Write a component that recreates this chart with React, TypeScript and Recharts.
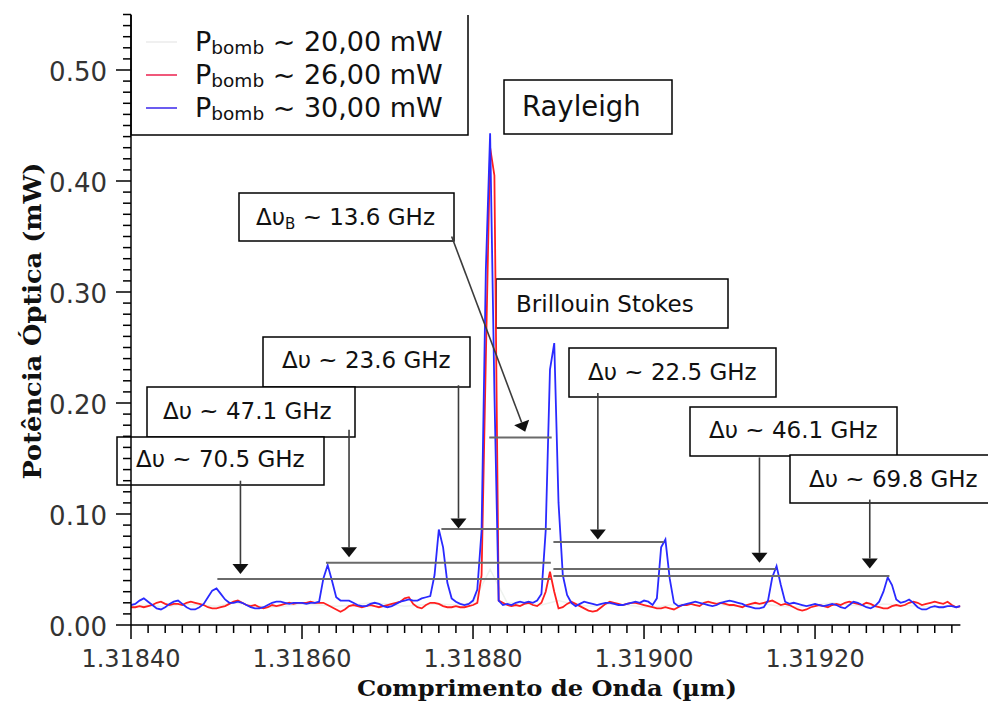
import React from 'react';
import { LineChart, Line, XAxis, YAxis, ReferenceLine } from 'recharts';

// wavelength grid of the OSA trace (µm)
const wavelength = Array.from({ length: 195 }, (_, i) => +(1.3184 + i * 0.000005).toFixed(6));

// P_bomb ~ 26 mW (red)
const p26 = [
  0.016, 0.016, 0.017, 0.016, 0.017, 0.018, 0.02, 0.021, 0.019, 0.018,
  0.019, 0.019, 0.018, 0.02, 0.021, 0.02, 0.019, 0.018, 0.016, 0.015,
  0.015, 0.016, 0.017, 0.019, 0.021, 0.022, 0.02, 0.018, 0.017, 0.018,
  0.016, 0.015, 0.016, 0.018, 0.017, 0.018, 0.019, 0.02, 0.019, 0.02,
  0.02, 0.02, 0.021, 0.02, 0.02, 0.02, 0.018, 0.016, 0.014, 0.012,
  0.014, 0.017, 0.018, 0.017, 0.016, 0.017, 0.018, 0.017, 0.016, 0.017,
  0.018, 0.019, 0.02, 0.021, 0.024, 0.025, 0.019, 0.016, 0.015, 0.018,
  0.02, 0.02, 0.019, 0.017, 0.016, 0.016, 0.017, 0.016, 0.016, 0.017,
  0.018, 0.02, 0.045, 0.24, 0.43, 0.405, 0.022, 0.02, 0.018, 0.017,
  0.018, 0.017, 0.019, 0.02, 0.018, 0.017, 0.02, 0.03, 0.048, 0.03,
  0.015, 0.016, 0.019, 0.021, 0.019, 0.017, 0.015, 0.013, 0.012, 0.013,
  0.016, 0.019, 0.021, 0.02, 0.019, 0.018, 0.019, 0.02, 0.02, 0.019,
  0.018, 0.017, 0.016, 0.015, 0.015, 0.016, 0.015, 0.014, 0.016, 0.018,
  0.018, 0.019, 0.018, 0.017, 0.02, 0.021, 0.02, 0.019, 0.02, 0.019,
  0.018, 0.018, 0.017, 0.016, 0.018, 0.019, 0.02, 0.019, 0.02, 0.021,
  0.022, 0.02, 0.018, 0.019, 0.018, 0.016, 0.014, 0.013, 0.014, 0.016,
  0.017, 0.018, 0.017, 0.016, 0.018, 0.019, 0.018, 0.02, 0.021, 0.02,
  0.019, 0.018, 0.02, 0.019, 0.017, 0.016, 0.015, 0.015, 0.017, 0.018,
  0.017, 0.018, 0.02, 0.021, 0.02, 0.018, 0.019, 0.02, 0.021, 0.02,
  0.019, 0.021, 0.018, 0.016, 0.017,
];

// P_bomb ~ 30 mW (blue)
const p30 = [
  0.018, 0.019, 0.022, 0.024, 0.021, 0.018, 0.015, 0.014, 0.016, 0.019,
  0.021, 0.022, 0.019, 0.016, 0.014, 0.014, 0.016, 0.019, 0.025, 0.031,
  0.033, 0.028, 0.023, 0.02, 0.02, 0.021, 0.02, 0.018, 0.016, 0.015,
  0.015, 0.016, 0.018, 0.02, 0.021, 0.021, 0.02, 0.019, 0.02, 0.02,
  0.02, 0.019, 0.02, 0.02, 0.021, 0.042, 0.054, 0.04, 0.025, 0.022,
  0.022, 0.022, 0.02, 0.018, 0.017, 0.017, 0.019, 0.02, 0.019, 0.017,
  0.016, 0.017, 0.019, 0.021, 0.022, 0.023, 0.022, 0.022, 0.024, 0.025,
  0.026, 0.045, 0.086, 0.07, 0.038, 0.024, 0.021, 0.019, 0.018, 0.019,
  0.022, 0.032, 0.085, 0.32, 0.443, 0.21, 0.022, 0.018, 0.019, 0.018,
  0.02, 0.021, 0.02, 0.021, 0.02, 0.022, 0.028, 0.085, 0.23, 0.254,
  0.11, 0.045, 0.027, 0.02, 0.017, 0.019, 0.021, 0.02, 0.019, 0.018,
  0.019, 0.02, 0.02, 0.019, 0.018, 0.018, 0.019, 0.02, 0.021, 0.02,
  0.022, 0.021, 0.018, 0.024, 0.07, 0.077, 0.042, 0.02, 0.017, 0.018,
  0.019, 0.02, 0.021, 0.02, 0.019, 0.018, 0.017, 0.018, 0.02, 0.021,
  0.022, 0.021, 0.02, 0.019, 0.017, 0.016, 0.015, 0.015, 0.016, 0.022,
  0.043, 0.053, 0.036, 0.021, 0.019, 0.02, 0.019, 0.018, 0.017, 0.018,
  0.019, 0.018, 0.017, 0.018, 0.019, 0.018, 0.016, 0.015, 0.018, 0.021,
  0.02, 0.018, 0.016, 0.015, 0.017, 0.021, 0.03, 0.043, 0.036, 0.023,
  0.02, 0.021, 0.023, 0.02, 0.016, 0.014, 0.014, 0.016, 0.017, 0.016,
  0.016, 0.017, 0.017, 0.016, 0.017,
];

// P_bomb ~ 20 mW (very faint trace), coarser sampling
const wavelength20 = Array.from({ length: 49 }, (_, i) => +(1.3184 + i * 0.00002).toFixed(5));
const p20 = [
  0.017, 0.018, 0.016, 0.019, 0.018, 0.017, 0.02, 0.018, 0.016, 0.017,
  0.019, 0.018, 0.017, 0.018, 0.02, 0.019, 0.017, 0.018, 0.019, 0.018,
  0.02, 0.05, 0.02, 0.019, 0.018, 0.022, 0.018, 0.017, 0.019, 0.018,
  0.016, 0.017, 0.019, 0.018, 0.02, 0.017, 0.018, 0.019, 0.017, 0.016,
  0.018, 0.02, 0.018, 0.017, 0.019, 0.018, 0.017, 0.016, 0.018,
];

const seriesKeys = ['p20', 'p26', 'p30'];
const seriesPower = ['20,00', '26,00', '30,00'];
const seriesColors = ['#eef2ee', '#ff1f1f', '#2a2aff'];
const legendColors = ['#f0f0f0', '#f0587a', '#6b5cf0'];

const xTicks = Array.from({ length: 49 }, (_, i) => +(1.3184 + i * 0.00002).toFixed(5));
const yTicks = Array.from({ length: 56 }, (_, i) => +(i * 0.01).toFixed(2));

// separation markers: horizontal spans between Stokes lines (data coords)
const spans = [
  { x1: 1.318819, x2: 1.318892, y: 0.169 },
  { x1: 1.318763, x2: 1.318891, y: 0.0865 },
  { x1: 1.318628, x2: 1.318891, y: 0.056 },
  { x1: 1.318501, x2: 1.318891, y: 0.0414 },
  { x1: 1.318894, x2: 1.319023, y: 0.0748 },
  { x1: 1.318894, x2: 1.319154, y: 0.0505 },
  { x1: 1.318894, x2: 1.319287, y: 0.0441 },
];

// arrows from the labels down to the spans (data coords)
const arrows = [
  { x1: 1.318528, y1: 0.13, x2: 1.318528, y2: 0.046 },
  { x1: 1.318655, y1: 0.176, x2: 1.318655, y2: 0.061 },
  { x1: 1.318783, y1: 0.216, x2: 1.318783, y2: 0.087 },
  { x1: 1.318775, y1: 0.35, x2: 1.318861, y2: 0.174 },
  { x1: 1.318946, y1: 0.209, x2: 1.318946, y2: 0.077 },
  { x1: 1.319135, y1: 0.151, x2: 1.319135, y2: 0.056 },
  { x1: 1.319264, y1: 0.113, x2: 1.319264, y2: 0.051 },
];

// text boxes (page pixels)
const boxes = [
  { x: 504, y: 80, w: 168, h: 54, tx: 522, ty: 116, fs: 27.5, main: 'Rayleigh' },
  { x: 239, y: 193, w: 215, h: 48, tx: 256, ty: 225, fs: 23, main: 'Δυ', sub: 'B', rest: ' ~ 13.6 GHz' },
  { x: 496, y: 279, w: 232, h: 49, tx: 516, ty: 312, fs: 23, main: 'Brillouin Stokes' },
  { x: 263, y: 337, w: 207, h: 50, tx: 282, ty: 368, fs: 23, main: 'Δυ ~ 23.6 GHz' },
  { x: 569, y: 348, w: 207, h: 49, tx: 588, ty: 380, fs: 23, main: 'Δυ ~ 22.5 GHz' },
  { x: 147, y: 387, w: 208, h: 50, tx: 163, ty: 419, fs: 23, main: 'Δυ ~ 47.1 GHz' },
  { x: 690, y: 407, w: 207, h: 49, tx: 709, ty: 438, fs: 23, main: 'Δυ ~ 46.1 GHz' },
  { x: 117, y: 437, w: 207, h: 48, tx: 136, ty: 467, fs: 23, main: 'Δυ ~ 70.5 GHz' },
  { x: 790, y: 455, w: 200, h: 48, tx: 809, ty: 487, fs: 23, main: 'Δυ ~ 69.8 GHz' },
];

const data = wavelength.map((wl, i) => ({ wl, p26: p26[i], p30: p30[i] }));
const data20 = wavelength20.map((wl, i) => ({ wl, p20: p20[i] }));

const FONT = '"DejaVu Sans", Verdana, sans-serif';
const SERIF = '"DejaVu Serif", "Liberation Serif", serif';

const XTick = (props: any) => {
  const { x, y, payload } = props;
  const major = Math.round(payload.value * 1e5) % 20 === 0;
  return (
    <g>
      <line x1={x} x2={x} y1={y} y2={y + (major ? 14 : 8)} stroke="#000" strokeWidth={1.5} />
      {major && (
        <text x={x} y={y + 42} textAnchor="middle" fontSize={24} fill="#333" fontFamily={FONT}>
          {payload.value.toFixed(5)}
        </text>
      )}
    </g>
  );
};

const YTick = (props: any) => {
  const { x, y, payload } = props;
  const major = Math.round(payload.value * 100) % 10 === 0;
  return (
    <g>
      <line x1={x - (major ? 15 : 8)} x2={x} y1={y} y2={y} stroke="#000" strokeWidth={1.5} />
      {major && (
        <text x={x - 24} y={y + 11} textAnchor="end" fontSize={26} fill="#333" fontFamily={FONT}>
          {payload.value.toFixed(2)}
        </text>
      )}
    </g>
  );
};

const ArrowShape = (props: any) => {
  const { x1, y1, x2, y2 } = props;
  const dx = x2 - x1;
  const dy = y2 - y1;
  const len = Math.hypot(dx, dy) || 1;
  const ux = dx / len;
  const uy = dy / len;
  const h = 10;
  const w = 8;
  const bx = x2 - ux * h;
  const by = y2 - uy * h;
  const pts = `${x2},${y2} ${bx - uy * w},${by + ux * w} ${bx + uy * w},${by - ux * w}`;
  return (
    <g>
      <line x1={x1} y1={y1} x2={bx} y2={by} stroke="#3c3c3c" strokeWidth={1.6} />
      <polygon points={pts} fill="#111" />
    </g>
  );
};

function Overlay() {
  return (
    <svg width={988} height={702} style={{ position: 'absolute', left: 0, top: 0 }}>
      {/* legend */}
      <path d="M131,15 V135 H468 V15" fill="#fff" stroke="#000" strokeWidth={1.5} />
      {seriesPower.map((p, i) => (
        <g key={p}>
          <line x1={146} x2={177} y1={42 + i * 33} y2={42 + i * 33} stroke={legendColors[i]} strokeWidth={2} />
          <text x={195} y={51 + i * 33} fontSize={27} fill="#111" fontFamily={FONT}>
            P<tspan fontSize={18.5} dy={3}>bomb</tspan>
            <tspan dy={-3}>{` ~ ${p} mW`}</tspan>
          </text>
        </g>
      ))}
      {boxes.map((b) => (
        <g key={b.main + b.x}>
          <rect x={b.x} y={b.y} width={b.w} height={b.h} fill="#fff" stroke="#000" strokeWidth={1.5} />
          <text x={b.tx} y={b.ty} fontSize={b.fs} fill="#111" fontFamily={FONT}>
            {b.main}
            {b.sub && (
              <tspan fontSize={15} dy={4}>
                {b.sub}
              </tspan>
            )}
            {b.rest && <tspan dy={-4}>{b.rest}</tspan>}
          </text>
        </g>
      ))}
      <text
        x={547}
        y={696}
        textAnchor="middle"
        fontSize={23}
        fontWeight="bold"
        fill="#111"
        fontFamily={SERIF}
        textLength={380}
        lengthAdjust="spacingAndGlyphs"
      >
        Comprimento de Onda (µm)
      </text>
      <text
        transform="translate(41,321) rotate(-90)"
        textAnchor="middle"
        fontSize={24}
        fontWeight="bold"
        fill="#111"
        fontFamily={SERIF}
        textLength={317}
        lengthAdjust="spacingAndGlyphs"
      >
        Potência Óptica (mW)
      </text>
    </svg>
  );
}

export default function App() {
  return (
    <div style={{ position: 'absolute', left: 0, top: 0, width: 988, height: 702, background: '#fff' }}>
      <Overlay />
      <div style={{ position: 'absolute', left: 0, top: 0 }}>
        <LineChart width={988} height={702} data={data} margin={{ top: 14.5, right: 27.6, left: 71, bottom: 37 }}>
          <XAxis
            dataKey="wl"
            type="number"
            domain={[1.3184, 1.31937]}
            ticks={xTicks}
            interval={0}
            allowDataOverflow
            tick={(p: any) => <XTick {...p} />}
            tickLine={false}
            tickSize={0}
            tickMargin={0}
            height={40}
            axisLine={{ stroke: '#000', strokeWidth: 1.5 }}
          />
          <YAxis
            type="number"
            domain={[0, 0.55]}
            ticks={yTicks}
            interval={0}
            allowDataOverflow
            tick={(p: any) => <YTick {...p} />}
            tickLine={false}
            tickSize={0}
            tickMargin={0}
            width={60}
            axisLine={{ stroke: '#000', strokeWidth: 1.5 }}
          />
          <Line
            data={data20}
            dataKey={seriesKeys[0]}
            stroke={seriesColors[0]}
            strokeWidth={1.5}
            dot={false}
            isAnimationActive={false}
            type="linear"
          />
          <Line dataKey={seriesKeys[1]} stroke={seriesColors[1]} strokeWidth={1.8} dot={false} isAnimationActive={false} type="linear" />
          <Line dataKey={seriesKeys[2]} stroke={seriesColors[2]} strokeWidth={1.8} dot={false} isAnimationActive={false} type="linear" />
          {spans.map((s, i) => (
            <ReferenceLine
              key={'s' + i}
              segment={[{ x: s.x1, y: s.y }, { x: s.x2, y: s.y }]}
              stroke="#6a6a6a"
              strokeWidth={2}
              ifOverflow="visible"
            />
          ))}
          {arrows.map((a, i) => (
            <ReferenceLine
              key={'a' + i}
              segment={[{ x: a.x1, y: a.y1 }, { x: a.x2, y: a.y2 }]}
              ifOverflow="visible"
              shape={(p: any) => <ArrowShape {...p} />}
            />
          ))}
        </LineChart>
      </div>
    </div>
  );
}
